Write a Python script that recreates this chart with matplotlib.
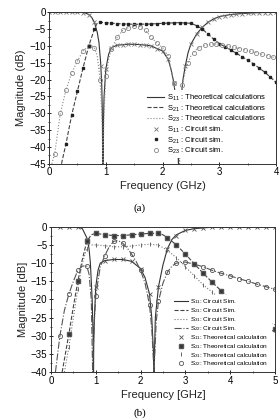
import matplotlib
matplotlib.use('Agg')
import matplotlib.pyplot as plt
from matplotlib.ticker import MultipleLocator

plt.rcParams['font.family'] = ['Liberation Sans', 'DejaVu Sans']
plt.rcParams['mathtext.fontset'] = 'custom'
plt.rcParams['mathtext.rm'] = 'Liberation Sans'

# ---- (a) theoretical curves ----
a_s11_x = [0, 0.3, 0.5, 0.6, 0.65, 0.7, 0.75, 0.8, 0.85, 0.88, 0.91, 0.93, 0.945, 0.95, 0.955, 0.97,
           1.0, 1.05, 1.1, 1.2, 1.4, 1.6, 1.8, 1.9, 2.0, 2.1, 2.15, 2.2, 2.25, 2.28, 2.3, 2.33, 2.36,
           2.4, 2.45, 2.5, 2.6, 2.7, 2.8, 2.9, 3.0, 3.2, 3.4, 3.6, 3.8, 4.0]
a_s11_y = [0, 0, 0, -0.1, -0.3, -0.7, -1.5, -3, -6, -9, -15, -22, -35, -45, -35, -25,
           -17, -12.5, -10.5, -9.8, -9.5, -9.6, -10, -10.8, -11.5, -14, -17, -21, -28, -45, -35, -25, -20,
           -16, -12, -9.5, -6.5, -4.5, -3, -2, -1.3, -0.7, -0.4, -0.2, -0.1, -0.05]
a_s21_x = [0.22, 0.3, 0.4, 0.5, 0.6, 0.7, 0.8, 0.85, 0.9, 1.0, 1.2, 1.5, 1.8, 2.0, 2.3, 2.5, 2.6, 2.7,
           2.8, 2.9, 3.0, 3.2, 3.4, 3.6, 3.8, 4.0]
a_s21_y = [-45, -39, -30.5, -23.5, -16.5, -10, -5, -3.2, -3, -3.1, -3.4, -3.6, -3.5, -3.3, -3.1, -3.3, -4, -5,
           -6.5, -8, -9.3, -11.2, -13.2, -15.3, -17.8, -20.8]
a_s23_x = [0.05, 0.1, 0.2, 0.3, 0.4, 0.5, 0.6, 0.7, 0.75, 0.8, 0.85, 0.9, 0.93, 0.95, 0.97, 1.0, 1.05,
           1.1, 1.2, 1.3, 1.4, 1.5, 1.6, 1.7, 1.8, 1.9, 2.0, 2.1, 2.2, 2.25, 2.3, 2.35, 2.4, 2.45, 2.5,
           2.6, 2.7, 2.8, 2.9, 3.0, 3.2, 3.4, 3.6, 3.8, 4.0]
a_s23_y = [-45, -42, -30, -23, -18, -14.5, -11.5, -10, -9.8, -10.5, -13, -20, -30, -45, -30, -19, -14,
           -10.8, -7.5, -5.4, -4.6, -4.2, -4.3, -5.4, -7.4, -9.2, -10.5, -13, -21, -30, -45, -21.5, -17.5, -15, -13,
           -11, -10, -9.6, -9.4, -9.5, -10.2, -11, -11.8, -12.7, -13.6]

# ---- (a) circuit simulation points ----
a_sim11_x = [0, 0.1, 0.2, 0.3, 0.4, 0.5, 0.6, 0.7, 0.8, 0.92, 1.0, 1.1, 1.2, 1.3, 1.4, 1.5, 1.6, 1.7,
             1.8, 1.9, 2.0, 2.1, 2.2, 2.4, 2.5, 2.6, 2.7, 2.8, 2.9, 3.0, 3.1, 3.2, 3.3, 3.4, 3.5, 3.6,
             3.7, 3.8, 3.9, 4.0]
a_sim11_y = [0, 0, 0, 0, 0, 0, -0.1, -0.7, -3, -16, -17, -10.5, -9.8, -9.6, -9.5, -9.5, -9.6, -9.8,
             -10, -10.8, -11.5, -14, -21, -16, -9.5, -6.5, -4.5, -3, -2, -1.3, -1, -0.7, -0.5, -0.4, -0.3,
             -0.2, -0.15, -0.1, -0.1, -0.05]
a_sim21_x = [0.3, 0.4, 0.5, 0.6, 0.7, 0.8, 0.9, 1.0, 1.1, 1.2, 1.3, 1.4, 1.5, 1.6, 1.7, 1.8, 1.9, 2.0,
             2.1, 2.2, 2.3, 2.4, 2.5, 2.6, 2.7, 2.8, 2.9, 3.0, 3.1, 3.2, 3.3, 3.4, 3.5, 3.6, 3.7, 3.8,
             3.9, 4.0]
a_sim21_y = [-39, -30.5, -23.5, -16.5, -10, -5, -3, -3.1, -3.3, -3.4, -3.5, -3.5, -3.6, -3.6, -3.5, -3.5,
             -3.4, -3.3, -3.2, -3.1, -3.1, -3.1, -3.3, -4, -5, -6.5, -8, -9.3, -10.2, -11.2, -12.2, -13.2,
             -14.2, -15.3, -16.5, -17.8, -19.3, -20.8]
a_sim23_x = [0.1, 0.2, 0.3, 0.4, 0.5, 0.6, 0.7, 0.8, 0.9, 1.0, 1.1, 1.2, 1.3, 1.4, 1.5, 1.6, 1.7, 1.8,
             1.9, 2.0, 2.1, 2.2, 2.35, 2.45, 2.55, 2.65, 2.75, 2.85, 2.95, 3.05, 3.15, 3.25, 3.35, 3.45,
             3.55, 3.65, 3.75, 3.85, 3.95]
a_sim23_y = [-42, -30, -23, -18, -14.5, -11.5, -10, -10.5, -20, -19, -10.8, -7.5, -5.4, -4.6, -4.2, -4.3,
             -5.4, -7.4, -9.2, -10.5, -13, -21, -21.5, -15, -12, -10.5, -9.8, -9.5, -9.4, -9.6, -10, -10.4,
             -10.8, -11.2, -11.6, -12, -12.4, -12.9, -13.4]

# ---- (b) circuit simulation curves ----
b_s11_x = [0, 0.3, 0.6, 0.7, 0.8, 0.85, 0.88, 0.92, 0.945, 0.95, 0.955, 0.97, 1.0, 1.05, 1.1, 1.2, 1.4,
           1.6, 1.8, 2.0, 2.1, 2.2, 2.25, 2.29, 2.3, 2.31, 2.33, 2.4, 2.5, 2.6, 2.7, 2.8, 3.0, 3.2, 3.5,
           4.0, 5.0]
b_s11_y = [0, 0, 0, -0.5, -3, -6, -10, -20, -32, -40, -32, -25, -16.5, -12, -10, -9.3, -9, -9, -9.5, -11.5,
           -14, -18.5, -25, -35, -40, -35, -25, -16.5, -10.5, -6, -3.5, -2.2, -1, -0.5, -0.2, 0, 0]
b_s21_x = [0.25, 0.4, 0.5, 0.6, 0.7, 0.8, 0.9, 1.0, 1.2, 1.4, 1.6, 1.8, 2.0, 2.2, 2.4, 2.5, 2.6, 2.8,
           3.0, 3.2, 3.4, 3.6, 3.8, 4.0, 4.2, 4.5, 5.0]
b_s21_y = [-40, -29.5, -22, -15, -9, -4, -2.2, -1.8, -2.2, -2.4, -2.4, -2.2, -2, -1.8, -1.8, -2.2, -3, -5,
           -7.5, -10.2, -12.8, -15.3, -17.6, -20, -22, -25, -29]
b_s31_x = [0.3, 0.4, 0.5, 0.6, 0.7, 0.8, 0.85, 1.0, 1.2, 1.4, 1.6, 1.8, 2.0, 2.2, 2.4, 2.6, 2.8, 3.0,
           3.2, 3.4, 3.6, 3.8, 4.0, 4.5, 5.0]
b_s31_y = [-40, -33, -25, -17, -10, -6, -5, -5, -5.2, -5.5, -5.5, -5.3, -5, -4.8, -5, -6.5, -8.5, -11,
           -13.5, -16, -18, -20, -21.5, -24.5, -27]
b_s22_x = [0.1, 0.2, 0.3, 0.4, 0.5, 0.6, 0.7, 0.8, 0.85, 0.9, 0.93, 0.96, 1.0, 1.1, 1.2, 1.3, 1.4, 1.5,
           1.6, 1.7, 1.8, 1.9, 2.0, 2.1, 2.2, 2.25, 2.3, 2.35, 2.4, 2.5, 2.6, 2.7, 2.8, 3.0, 3.2, 3.4,
           3.6, 3.8, 4.0, 4.2, 4.4, 4.6, 4.8, 5.0]
b_s22_y = [-40, -30, -23, -18.5, -15, -12, -10.8, -10.8, -13, -20, -40, -28, -19, -11, -8, -5.5, -4, -3.8,
           -4.5, -5.8, -7.5, -9.5, -12, -15.5, -21.5, -28, -40, -26, -20.5, -15.5, -12.5, -10.8, -10, -9.7,
           -10.3, -11, -12, -12.8, -13.5, -14.3, -15, -15.8, -16.5, -17.2]

# ---- (b) theoretical points ----
b_x = [0.2, 0.4, 0.6, 0.8, 1.0, 1.2, 1.4, 1.6, 1.8, 2.0, 2.2, 2.4, 2.6, 2.8, 3.0, 3.2, 3.4, 3.6, 3.8,
       4.0, 4.2, 4.4, 4.6, 4.8, 5.0]
b_th11_y = [0, 0, 0, -3.5, -16.5, -9.5, -9, -9, -9.3, -11.5, -18.5, -16.5, -6, -2.5, -1, -0.5, -0.2,
            -0.1, 0, 0, 0, 0, 0, 0, 0]
b_th21_x = b_x[1:]
b_th21_y = [-29.5, -15, -4, -1.8, -2.2, -2.4, -2.4, -2.2, -2, -1.8, -1.8, -3, -5, -7.5, -10.2, -12.8,
            -15.3, -17.6, -20, -22, -23.5, -25, -26.5, -28]
b_th31_x = b_x[1:]
b_th31_y = [-33, -17, -6, -5, -5.2, -5.5, -5.5, -5.3, -5, -4.8, -5, -6.5, -8.5, -11, -13.5, -16, -18,
            -20, -21.5, -22.7, -23.9, -24.8, -25.9, -27]
b_th22_y = [-30, -18.5, -12, -10.8, -19, -8, -4, -4.5, -7.5, -12, -21.5, -20.5, -12.5, -10, -9.7, -10.3,
            -11, -12, -12.8, -13.5, -14.3, -15, -15.8, -16.5, -17.2]

fig = plt.figure(figsize=(2.8, 4.2), dpi=100)
ax1 = fig.add_axes([0.175, 0.61, 0.811, 0.361])
ax2 = fig.add_axes([0.182, 0.114, 0.800, 0.346])

lw = 0.8
ms = 3

ax1.plot(a_s11_x, a_s11_y, '-', color='#333333', lw=lw, label='S$_{11}$ : Theoretical calculations')
ax1.plot(a_s21_x, a_s21_y, '--', color='#444444', lw=lw, label='S$_{21}$ : Theoretical calculations')
ax1.plot(a_s23_x, a_s23_y, ':', color='#888888', lw=lw, label='S$_{23}$ : Theoretical calculations')
ax1.plot(a_sim11_x, a_sim11_y, 'x', color='#777777', ms=2.5, mew=0.6, ls='none', label='S$_{11}$ : Circuit sim.')
ax1.plot(a_sim21_x, a_sim21_y, 's', color='#222222', ms=2.0, ls='none', label='S$_{21}$ : Circuit sim.')
ax1.plot(a_sim23_x, a_sim23_y, 'o', mfc='none', mec='#888888', ms=ms, mew=0.6, ls='none',
         label='S$_{23}$ : Circuit sim.')

ax2.plot(b_s11_x, b_s11_y, '-', color='#333333', lw=lw, label='S$_{11}$: Circuit Sim.')
ax2.plot(b_s21_x, b_s21_y, '--', color='#444444', lw=lw, label='S$_{21}$: Circuit Sim.')
ax2.plot(b_s31_x, b_s31_y, ':', color='#777777', lw=lw, label='S$_{31}$: Circuit Sim.')
ax2.plot(b_s22_x, b_s22_y, '-.', color='#555555', lw=lw, label='S$_{22}$: Circuit Sim.')
ax2.plot(b_x, b_th11_y, 'x', color='#555555', ms=ms, mew=0.6, ls='none', label='S$_{11}$: Theoretical calculation')
ax2.plot(b_th21_x, b_th21_y, 's', mfc='#333333', mec='#555555', ms=2.6, ls='none',
         label='S$_{21}$: Theoretical calculation')
ax2.plot(b_th31_x, b_th31_y, '|', color='#666666', ms=ms, mew=0.7, ls='none',
         label='S$_{31}$: Theoretical calculation')
ax2.plot(b_x, b_th22_y, 'o', mfc='none', mec='#555555', ms=ms, mew=0.6, ls='none',
         label='S$_{22}$: Theoretical calculation')

for ax, xmax, ymin, xl, yl in [(ax1, 4, -45, 'Frequency (GHz)', 'Magnitude (dB)'),
                              (ax2, 5, -40, 'Frequency [GHz]', 'Magnitude [dB]')]:
    ax.set_xlim(0, xmax)
    ax.set_ylim(ymin, 0)
    ax.xaxis.set_major_locator(MultipleLocator(1))
    ax.xaxis.set_minor_locator(MultipleLocator(0.5))
    ax.yaxis.set_major_locator(MultipleLocator(5))
    ax.yaxis.set_minor_locator(MultipleLocator(2.5))
    ax.tick_params(which='major', direction='inout', length=3, width=0.6, labelsize=7, pad=1)
    ax.tick_params(which='minor', direction='inout', length=2, width=0.5)
    for sp in ax.spines.values():
        sp.set_linewidth(0.7)
        sp.set_color('#333333')
    ax.set_xlabel(xl, fontsize=8, labelpad=3, color='#222222')
    ax.set_ylabel(yl, fontsize=8, labelpad=2, color='#222222')

leg1 = ax1.legend(loc='lower left', mode='expand', bbox_to_anchor=(0.423, 0.035, 0.564, 0.45),
                  fontsize=5.5, frameon=True, framealpha=1, edgecolor='none', borderpad=0.3,
                  labelspacing=0.02, handlelength=2.2, handletextpad=0.4, borderaxespad=0)
leg1.get_frame().set_linewidth(0)
leg2 = ax2.legend(loc='lower left', mode='expand', bbox_to_anchor=(0.54, 0.012, 0.447, 0.5),
                  fontsize=4.6, frameon=True, framealpha=1, edgecolor='none', borderpad=0.3,
                  labelspacing=0.0, handlelength=2.2, handletextpad=0.4, borderaxespad=0)
leg2.get_frame().set_linewidth(0)

fig.text(0.5, 1 - 208 / 420, '(a)', ha='center', va='center', fontsize=8,
         family=['Liberation Serif', 'DejaVu Serif'])
fig.text(0.5, 1 - 413 / 420, '(b)', ha='center', va='center', fontsize=8,
         family=['Liberation Serif', 'DejaVu Serif'])

fig.savefig('out.png', dpi=100)
